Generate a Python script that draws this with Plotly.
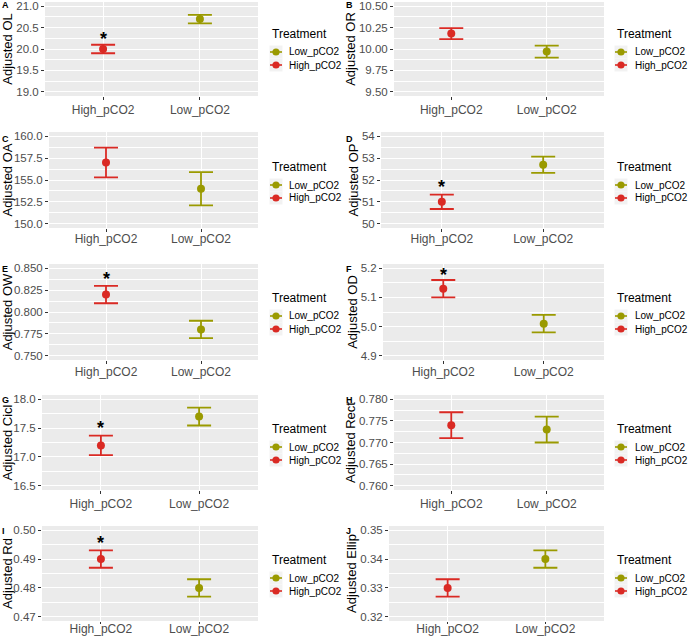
import plotly.graph_objects as go

# ---------------- data ----------------
categories = ["High_pCO2", "Low_pCO2"]
legend_labels = ["Low_pCO2", "High_pCO2"]
panel_letters = ["A", "B", "C", "D", "E", "F", "G", "H", "I", "J"]
y_titles = ["Adjusted OL", "Adjusted OR", "Adjusted OA", "Adjusted OP", "Adjusted OW",
            "Adjusted OD", "Adjusted Cicl", "Adjusted Rect", "Adjusted Rd", "Adjusted Ellip"]
high_mean = [20.0, 10.18, 157.0, 51.0, 0.82, 5.13, 17.2, 0.774, 0.49, 0.33]
high_se = [0.1, 0.065, 1.7, 0.33, 0.01, 0.03, 0.17, 0.003, 0.003, 0.003]
low_mean = [20.7, 9.97, 154.0, 52.7, 0.78, 5.01, 17.7, 0.773, 0.48, 0.34]
low_se = [0.1, 0.07, 1.9, 0.37, 0.01, 0.03, 0.155, 0.003, 0.003, 0.003]
star_y = [20.30, None, None, 51.82, 0.8415, 5.186, 17.56, None, 0.4966, None]
y_lo = [19.0, 9.5, 150.0, 50.0, 0.75, 4.9, 16.5, 0.76, 0.47, 0.32]
y_hi = [21.0, 10.5, 160.0, 54.0, 0.85, 5.2, 18.0, 0.78, 0.50, 0.35]
y_step = [0.5, 0.25, 2.5, 1.0, 0.025, 0.1, 0.5, 0.005, 0.01, 0.01]
y_fmt = [".1f", ".2f", ".1f", "d", ".3f", ".1f", ".1f", ".3f", ".2f", ".2f"]

# ---------------- styling / layout ----------------
W, H = 688, 638
RED = "#DA2A24"
OLIVE = "#9A9A00"
legend_colors = [OLIVE, RED]
FONT = "Liberation Sans, Arial, sans-serif"
row_top = [2, 132, 264, 395, 526]
row_bot = [96, 228, 360, 490, 621]
row_label_shift = [0, -3, -2, 0, -5]
left_l = [45, 49, 49, 42, 42]
right_l = [394, 381, 383, 394, 389]
col_r = [258, 604]
col_title_standoff = [3, 0]
leg_title_x = [270, 615]
leg_key_x = [276, 621]
leg_lab_x = [287, 633]
leg_title_c = [34, 167, 298, 429, 560]
letter_y = [5, 139, 269, 400, 531]

fig = go.Figure()
annotations = []
shapes = []
layout = {}


def px_x(v):
    return v / W


def px_y(v):
    return 1 - v / H


for i in range(10):
    row, col = divmod(i, 2)
    n = i + 1
    xa = "x" if n == 1 else f"x{n}"
    ya = "y" if n == 1 else f"y{n}"
    xkey = "xaxis" if n == 1 else f"xaxis{n}"
    ykey = "yaxis" if n == 1 else f"yaxis{n}"

    l_px = left_l[row] if col == 0 else right_l[row]
    r_px = col_r[col]
    span = y_hi[i] - y_lo[i]

    fig.add_trace(go.Scatter(
        x=[categories[1]], y=[low_mean[i]], name="Low_pCO2", mode="markers",
        marker=dict(color=OLIVE, size=8),
        error_y=dict(type="data", array=[low_se[i]], color=OLIVE, thickness=1.8, width=12),
        xaxis=xa, yaxis=ya, showlegend=False, hoverinfo="skip"))
    fig.add_trace(go.Scatter(
        x=[categories[0]], y=[high_mean[i]], name="High_pCO2", mode="markers",
        marker=dict(color=RED, size=8),
        error_y=dict(type="data", array=[high_se[i]], color=RED, thickness=1.8, width=12),
        xaxis=xa, yaxis=ya, showlegend=False, hoverinfo="skip"))

    layout[xkey] = dict(
        domain=[px_x(l_px), px_x(r_px)], anchor=ya, automargin=False,
        type="category", categoryorder="array", categoryarray=categories,
        range=[-0.6, 1.6], showgrid=True, gridcolor="white", gridwidth=1.1,
        zeroline=False, showline=False, ticks="outside", ticklen=3 if row < 4 else 2,
        tickcolor="#333333", ticklabelstandoff=row_label_shift[row],
        tickfont=dict(family=FONT, size=12, color="#4D4D4D"), fixedrange=True)
    layout[ykey] = dict(
        domain=[px_y(row_bot[row]), px_y(row_top[row])], anchor=xa, automargin=False,
        range=[y_lo[i] - 0.05 * span, y_hi[i] + 0.05 * span],
        tick0=y_lo[i], dtick=y_step[i], tickmode="linear", tickformat=y_fmt[i],
        showgrid=True, gridcolor="white", gridwidth=1.1, zeroline=False, showline=False,
        ticks="outside", ticklen=3, tickcolor="#333333",
        tickfont=dict(family=FONT, size=11.5, color="#4D4D4D"),
        minor=dict(tick0=y_lo[i], dtick=y_step[i] / 2, showgrid=True,
                   gridcolor="white", gridwidth=0.5, ticks=""),
        title=dict(text=y_titles[i], font=dict(family=FONT, size=13, color="black"),
                   standoff=col_title_standoff[col]),
        fixedrange=True)

    # significance asterisk
    if star_y[i] is not None:
        annotations.append(dict(
            x=categories[0], y=star_y[i], xref=xa, yref=ya, text="<b>*</b>",
            showarrow=False, font=dict(family=FONT, size=18, color="black"),
            yanchor="middle", yshift=-3))
    # panel letter
    annotations.append(dict(
        x=px_x(0 if col == 0 else 344), y=px_y(letter_y[row]), xref="paper", yref="paper",
        text=f"<b>{panel_letters[i]}</b>", showarrow=False, xanchor="left", yanchor="middle",
        font=dict(family=FONT, size=9, color="black")))

    # panel background
    shapes.append(dict(type="rect", xref=f"{xa} domain", yref=f"{ya} domain",
                       x0=0, x1=1, y0=0, y1=1, fillcolor="#EBEBEB", line_width=0,
                       layer="below"))

    # legend (drawn per panel, ggplot style)
    tc = leg_title_c[row]
    annotations.append(dict(
        x=px_x(leg_title_x[col]), y=px_y(tc), xref="paper", yref="paper",
        text="Treatment", showarrow=False, xanchor="left", yanchor="middle",
        font=dict(family=FONT, size=12, color="black")))
    for k, (lab, colr) in enumerate(zip(legend_labels, legend_colors)):
        cy = tc + 18 + 13 * k
        kx = leg_key_x[col]
        shapes.append(dict(type="rect", xref="paper", yref="paper",
                           x0=px_x(kx - 6.5), x1=px_x(kx + 6.5),
                           y0=px_y(cy + 6.5), y1=px_y(cy - 6.5),
                           fillcolor="#F2F2F2", line_width=0))
        shapes.append(dict(type="line", xref="paper", yref="paper",
                           x0=px_x(kx - 6), x1=px_x(kx + 6), y0=px_y(cy), y1=px_y(cy),
                           line=dict(color=colr, width=1.6)))
        shapes.append(dict(type="circle", xref="paper", yref="paper",
                           x0=px_x(kx - 3.6), x1=px_x(kx + 3.6),
                           y0=px_y(cy + 3.6), y1=px_y(cy - 3.6),
                           fillcolor=colr, line_width=0))
        annotations.append(dict(
            x=px_x(leg_lab_x[col]), y=px_y(cy), xref="paper", yref="paper",
            text=lab, showarrow=False, xanchor="left", yanchor="middle",
            font=dict(family=FONT, size=10, color="black")))

fig.update_layout(
    width=W, height=H, margin=dict(l=0, r=0, t=0, b=0),
    paper_bgcolor="white", plot_bgcolor="rgba(0,0,0,0)", showlegend=False,
    font=dict(family=FONT), annotations=annotations, shapes=shapes, **layout)

fig.write_html("out.html", config={"displayModeBar": False},
               post_script="document.body.style.margin='0px';"
                           "document.body.style.overflow='hidden';")
